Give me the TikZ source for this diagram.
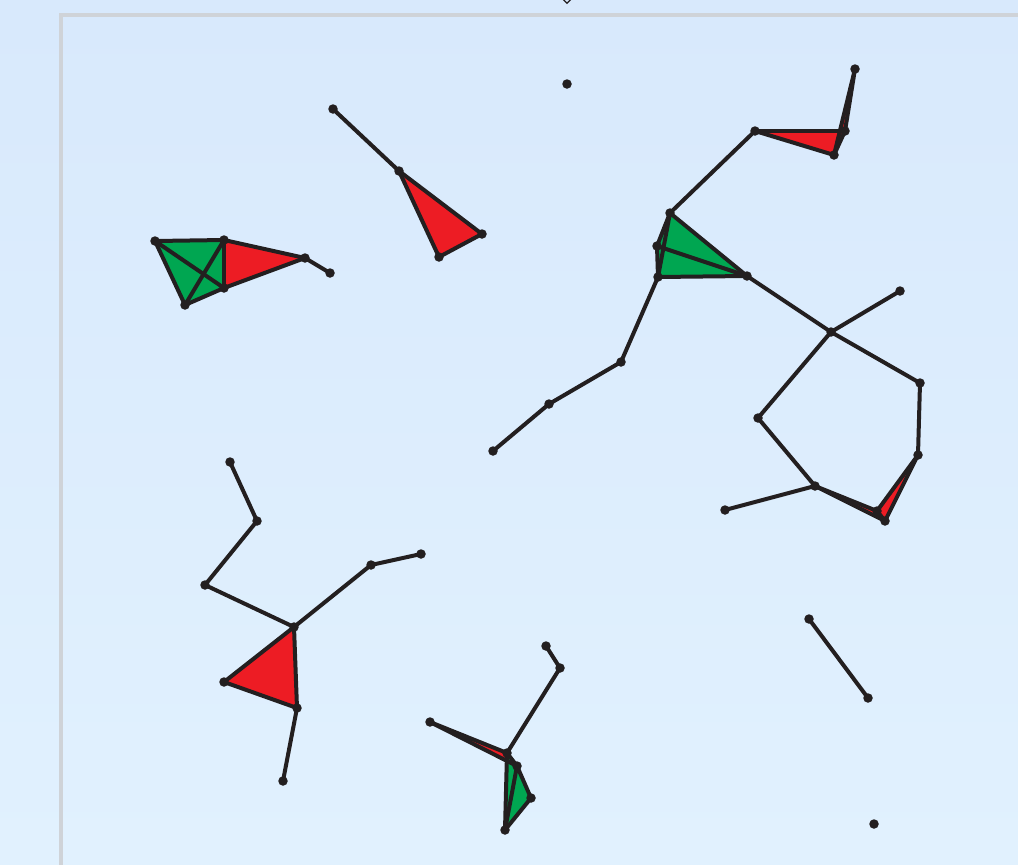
\documentclass[tikz,border=0pt]{standalone}
\usetikzlibrary{shapes.geometric}
\definecolor{bgtop}{HTML}{D8E9FC}
\definecolor{bgbot}{HTML}{E1F1FE}
\definecolor{frame}{HTML}{CFD3D8}
\definecolor{ink}{HTML}{231F20}
\definecolor{rfill}{HTML}{ED1C24}
\definecolor{gfill}{HTML}{00A651}
\tikzset{
  pt/.style={circle,fill=ink,inner sep=0pt,minimum size=9.5pt},
  edge/.style={draw=ink,line width=4pt,line cap=round,line join=round},
  redf/.style={fill=rfill},
  greenf/.style={fill=gfill},
}
\begin{document}
\begin{tikzpicture}[x=1pt,y=-1pt]
\useasboundingbox (0,0) rectangle (1018,865);
\clip (0,0) rectangle (1018,865);
\shade[top color=bgtop,bottom color=bgbot] (0,0) rectangle (1018,865);
\draw[frame,line width=3.5pt] (61,15) rectangle (1040,890);
\node[diamond,draw=ink,line width=1.3pt,inner sep=0pt,minimum size=9pt] (top) at (567,-1) {};
% nodes
\foreach \n/\x/\y in {A1/155/241,A2/224/240,A3/224/288,A4/185/305,A5/305/258,A6/330/273,
  B1/333/109,B2/399/171,B3/482/234,B4/439/257,C/567/84,
  D1/855/69,D2/845/131,D3/834/155,D4/755/131,
  E1/670/213,E2/657/246,E3/658/277,E4/747/276,
  F1/831/332,F2/900/291,F3/920/383,F4/918/455,
  G1/815/486,G2/877/511,G3/885/521,H1/758/418,H2/725/510,
  I1/621/362,I2/549/404,I3/493/451,
  J1/230/462,J2/257/521,J3/205/585,J4/294/627,J5/371/565,J6/421/554,J7/224/682,J8/297/708,J9/283/781,
  K1/546/646,K2/560/668,K3/507/753,K4/430/722,K5/517/766,K6/531/798,K7/505/830,
  L1/809/619,L2/868/698,M/874/824}
  {\coordinate (\n) at (\x,\y);}
% fills
\fill[greenf] (A1) -- (A2) -- (A3) -- (A4) -- cycle;
\fill[redf] (A2) -- (A5) -- (A3) -- cycle;
\fill[redf] (B2) -- (B3) -- (B4) -- cycle;
\fill[redf] (D4) -- (D2) -- (D3) -- cycle;
\fill[redf] (D1) -- (D2) -- (D3) -- cycle;
\fill[greenf] (E1) -- (E4) -- (E3) -- (E2) -- cycle;
\fill[redf] (G1) -- (G2) -- (G3) -- cycle;
\fill[redf] (G2) -- (F4) -- (G3) -- cycle;
\fill[redf] (J4) -- (J7) -- (J8) -- cycle;
\fill[redf] (K4) -- (K3) -- (K5) -- cycle;
\fill[greenf] (K3) -- (K5) -- (K6) -- (K7) -- cycle;
% edges
\foreach \a/\b in {A1/A2,A2/A3,A3/A4,A4/A1,A1/A3,A2/A4,A2/A5,A5/A3,A5/A6,
  B1/B2,B2/B3,B3/B4,B4/B2,
  D4/D2,D2/D3,D3/D4,D1/D2,D1/D3,D4/E1,
  E1/E4,E4/E3,E3/E2,E2/E1,E1/E3,E2/E4,
  E4/F1,F1/F2,F1/F3,F3/F4,F4/G2,F4/G3,G1/G2,G1/G3,G2/G3,F1/H1,H1/G1,G1/H2,
  E3/I1,I1/I2,I2/I3,
  J1/J2,J2/J3,J3/J4,J4/J5,J5/J6,J4/J7,J7/J8,J8/J4,J8/J9,
  K1/K2,K2/K3,K4/K3,K4/K5,K3/K5,K5/K6,K6/K7,K7/K3,K7/K5,
  L1/L2}
  {\draw[edge] (\a) -- (\b);}
% dots
\foreach \n in {A1,A2,A3,A4,A5,A6,B1,B2,B3,B4,C,D1,D2,D3,D4,E1,E2,E3,E4,F1,F2,F3,F4,G1,G2,G3,H1,H2,I1,I2,I3,J1,J2,J3,J4,J5,J6,J7,J8,J9,K1,K2,K3,K4,K5,K6,K7,L1,L2,M}
  {\node[pt] (p\n) at (\n) {};}
\end{tikzpicture}
\end{document}
